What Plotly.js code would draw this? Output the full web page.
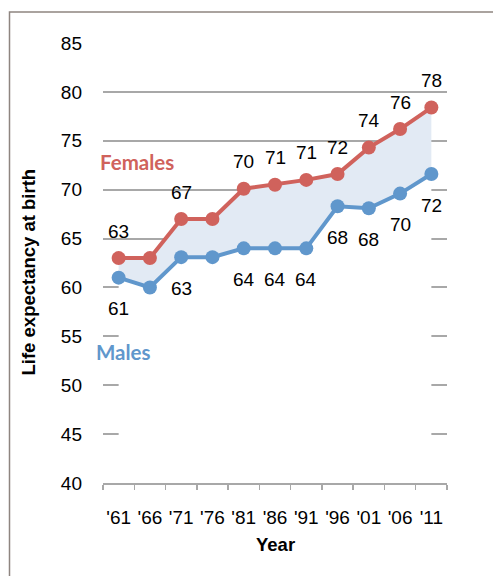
<!DOCTYPE html>
<html>
<head>
<meta charset="utf-8">
<script src="https://cdn.plot.ly/plotly-3.0.1.min.js"></script>
<style>
html,body{margin:0;padding:0;background:#fff;}
#chart{width:494px;height:576px;}
</style>
</head>
<body>
<div id="chart"></div>
<script>
const years = ["'61","'66","'71","'76","'81","'86","'91","'96","'01","'06","'11"];
const females = [63.0, 63.0, 67.0, 67.0, 70.1, 70.5, 71.0, 71.6, 74.3, 76.2, 78.4];
const males = [61.0, 60.0, 63.1, 63.1, 64.0, 64.0, 64.0, 68.3, 68.1, 69.6, 71.6];
const femaleLabels = ["63", null, "67", null, "70", "71", "71", "72", "74", "76", "78"];
const maleLabels = ["61", null, "63", null, "64", "64", "64", "68", "68", "70", "72"];
const yTicks = [40, 45, 50, 55, 60, 65, 70, 75, 80, 85];

const RED = '#d0625c';
const BLUE = '#6097cc';
const GRID = '#a8a8a8';
const FONT = 'Liberation Sans, Arial, sans-serif';

const traces = [
  {x: years, y: males, type: 'scatter', mode: 'none', fill: 'tozeroy', fillcolor: '#ffffff', hoverinfo: 'skip', showlegend: false},
  {x: years, y: females, type: 'scatter', mode: 'none', fill: 'tonexty', fillcolor: '#e2eaf4', hoverinfo: 'skip', showlegend: false},
  {x: years, y: females, type: 'scatter', mode: 'lines+markers', name: 'Females',
   line: {color: RED, width: 4}, marker: {color: RED, size: 14}, showlegend: false},
  {x: years, y: males, type: 'scatter', mode: 'lines+markers', name: 'Males',
   line: {color: BLUE, width: 4}, marker: {color: BLUE, size: 14}, showlegend: false}
];

const L = 103, R = 447, T = 42.5, B = 483.5;
const px = v => (v - L) / (R - L);
const py = v => (B - v) / (B - T);

const labelFont = {family: FONT, size: 19, color: '#000'};
const annotations = [];
femaleLabels.forEach((t, i) => {
  if (t !== null) annotations.push({x: years[i], y: females[i], xref: 'x', yref: 'y', text: t,
    showarrow: false, yshift: 27, font: labelFont});
});
maleLabels.forEach((t, i) => {
  if (t !== null) annotations.push({x: years[i], y: males[i], xref: 'x', yref: 'y', text: t,
    showarrow: false, yshift: -31, font: labelFont});
});
annotations.push({xref: 'paper', yref: 'paper', x: px(98), y: py(162), xanchor: 'left', yanchor: 'middle',
  text: '<b>Females</b>', showarrow: false, font: {family: 'Lato, sans-serif', size: 20.5, color: RED}});
annotations.push({xref: 'paper', yref: 'paper', x: px(94), y: py(352), xanchor: 'left', yanchor: 'middle',
  text: '<b>Males</b>', showarrow: false, font: {family: 'Lato, sans-serif', size: 20.5, color: BLUE}});
annotations.push({xref: 'paper', yref: 'paper', x: px(28.5), y: py(272), xanchor: 'center', yanchor: 'middle',
  textangle: -90, text: '<b>Life expectancy at birth</b>', showarrow: false, font: {family: FONT, size: 18.5, color: '#000'}});
annotations.push({xref: 'paper', yref: 'paper', x: 0.5, y: py(545), xanchor: 'center', yanchor: 'middle',
  text: '<b>Year</b>', showarrow: false, font: {family: FONT, size: 18.5, color: '#000'}});

const layout = {
  width: 494, height: 576,
  margin: {l: L, r: 494 - R, t: T, b: 576 - B, pad: 0},
  paper_bgcolor: '#fff', plot_bgcolor: '#fff',
  font: {family: FONT, size: 19, color: '#000'},
  xaxis: {
    type: 'category', range: [-0.5, 10.5], showgrid: false, zeroline: false,
    showline: true, linecolor: GRID, linewidth: 2,
    ticks: 'outside', tickson: 'boundaries', ticklen: 5, tickwidth: 1.5, tickcolor: GRID,
    tickfont: {size: 19}, tickangle: 0, ticklabelstandoff: 16
  },
  yaxis: {
    range: [40, 85], tickvals: yTicks, showgrid: true,
    gridcolor: GRID, gridwidth: 2, zeroline: false, showline: false, ticks: '',
    tickfont: {size: 19}, ticklabelstandoff: 20
  },
  annotations: annotations,
  shapes: [
    {type: 'path', xref: 'paper', yref: 'paper',
     path: `M ${px(9.5)} ${py(600)} L ${px(9.5)} ${py(11.5)} L ${px(493)} ${py(11.5)}`,
     line: {color: '#8e8580', width: 1.5}}
  ],
  showlegend: false
};

Plotly.newPlot('chart', traces, layout, {displayModeBar: false, staticPlot: true});
</script>
</body>
</html>
